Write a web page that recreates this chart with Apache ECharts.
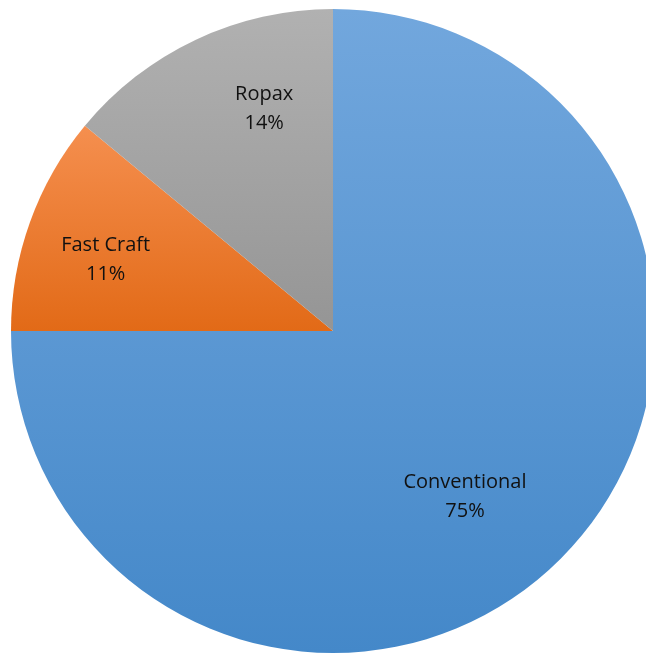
<!DOCTYPE html>
<html>
<head>
<meta charset="utf-8">
<script src="https://cdn.jsdelivr.net/npm/echarts@6/dist/echarts.min.js"></script>
<style>
html,body{margin:0;padding:0;background:#fff;}
#chart{width:646px;height:653px;}
</style>
</head>
<body>
<div id="chart"></div>
<script>
const categories = ['Conventional', 'Fast Craft', 'Ropax'];
const values = [75, 11, 14];
const gradTop = ['#72a7dd', '#f58f4f', '#b1b1b1'];
const gradBottom = ['#4488c9', '#e26a17', '#959595'];
const labelOffsets = [[16, 50], [-73, -16], [1, -74]];

const chart = echarts.init(document.getElementById('chart'));
chart.setOption({
  animation: false,
  series: [{
    type: 'pie',
    center: [333, 331],
    radius: 322,
    startAngle: 90,
    clockwise: true,
    avoidLabelOverlap: false,
    label: {
      show: true,
      position: 'inside',
      formatter: '{b}\n{d}%',
      fontFamily: 'Open Sans',
      fontSize: 20,
      lineHeight: 29,
      color: '#111'
    },
    labelLine: { show: false },
    emphasis: { disabled: true },
    data: categories.map((c, i) => ({
      name: c,
      value: values[i],
      label: { offset: labelOffsets[i] },
      itemStyle: {
        color: new echarts.graphic.LinearGradient(0, 0, 0, 1, [
          { offset: 0, color: gradTop[i] },
          { offset: 1, color: gradBottom[i] }
        ]),
        borderWidth: 0
      }
    }))
  }]
});
</script>
</body>
</html>
